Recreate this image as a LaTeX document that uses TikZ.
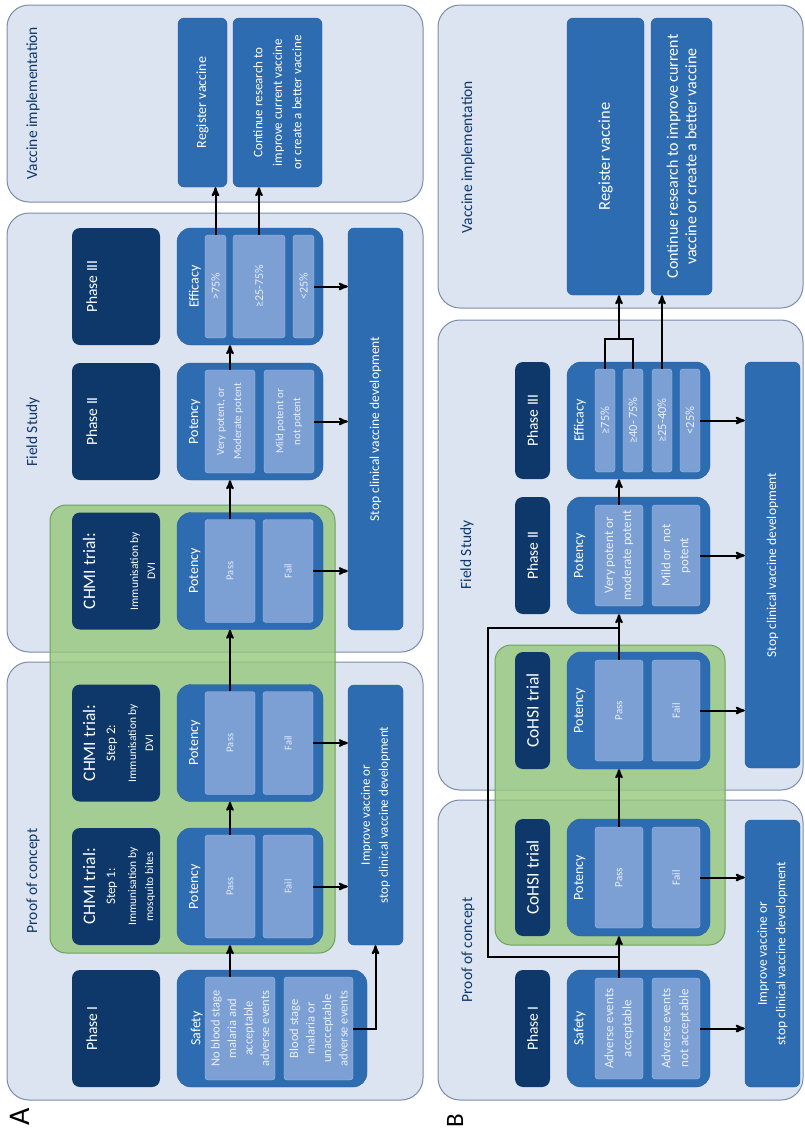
\documentclass[tikz,border=0pt]{standalone}
\usepackage{fontspec}
\setmainfont{Carlito}
\usetikzlibrary{positioning,arrows,calc}
\definecolor{navy}{RGB}{13,56,105}
\definecolor{midblue}{RGB}{46,108,178}
\definecolor{lightblue}{RGB}{125,160,212}
\definecolor{paletext}{RGB}{232,238,248}
\definecolor{panelfill}{RGB}{220,228,242}
\definecolor{panelline}{RGB}{125,140,170}
\definecolor{trialfill}{RGB}{150,200,125}
\definecolor{trialline}{RGB}{110,160,90}
\newcommand{\fs}[2]{\fontsize{#1}{#2}\selectfont}
\tikzset{panel/.style={draw=panelline,fill=panelfill,line width=1pt,rounded corners=22pt},
    trial/.style={draw=trialline,fill=trialfill,fill opacity=0.8,line width=1pt,rounded corners=16pt},
    wh/.style 2 args={minimum height=#1,minimum width=#2},
    rot/.style={rotate=90,inner sep=0pt,align=center},
    head/.style={rot,fill=navy,rounded corners=8pt,text=white},
    headtxt/.style={rot,text=white,font=\fs{11.5}{17}},
    test/.style={rot,fill=midblue,draw=midblue!85!black,rounded corners=14pt},
    opt/.style={rot,fill=lightblue,draw=lightblue!70!white,rounded corners=3pt,text=paletext},
    outcome/.style={rot,fill=midblue,draw=midblue!85!black,rounded corners=6pt,text=white},
    tag/.style={rot,text=white,font=\fs{14}{16}},
    title/.style={rot,text=navy,font=\fs{15.5}{18}},
    flow/.style={->,>=stealth',line width=2pt,black},
    link/.style={line width=2pt,black}}

\begin{document}
\begin{tikzpicture}[x=1pt,y=-1pt]
    \fill[white] (0,0) rectangle (805,1133);
    \useasboundingbox (0,0) rectangle (805,1133);

    % panel A
    \draw[panel] (7,5) rectangle (423,202);
    \draw[panel] (7,213) rectangle (423,652);
    \draw[panel] (7,662) rectangle (423,1100);
    \draw[trial] (50,505) rectangle (335,953);
    \node[title] (tA1) at (33,881) {Proof of concept};
    \node[title] (tA2) at (33,432) {Field Study};
    \node[title] (tA3) at (33,103) {Vaccine implementation};
    \node[rot,font=\fs{30}{30}] (lblA) at (20,1117) {A};

    \node[head,wh={88}{117}] (hA1) at (116,1028.5) {};
    \node[head,wh={88}{117}] (hA2) at (116,886.5) {};
    \node[head,wh={88}{117}] (hA3) at (116,743) {};
    \node[head,wh={88}{117}] (hA4) at (116,571) {};
    \node[head,wh={88}{117}] (hA5) at (116,421.5) {};
    \node[head,wh={88}{117}] (hA6) at (116,286.5) {};
    \node[headtxt] (hA1t) at ($(hA1.north)+(20,0)$) {\fs{15.5}{18}Phase I};
    \node[headtxt,anchor=north] (hA2t) at ($(hA2.north)+(11,0)$)
        {\fs{17.5}{20}CHMI trial:\\[3pt]\fs{13}{17}Step 1:\\[4pt]Immunisation by\\mosquito bites};
    \node[headtxt,anchor=north] (hA3t) at ($(hA3.north)+(11,0)$)
        {\fs{17.5}{20}CHMI trial:\\[3pt]\fs{13}{17}Step 2:\\[4pt]Immunisation by\\DVI};
    \node[headtxt,anchor=north] (hA4t) at ($(hA4.north)+(11,0)$)
        {\fs{17.5}{20}CHMI trial:\\[26pt]Immunisation by\\DVI};
    \node[headtxt] (hA5t) at ($(hA5.north)+(20,0)$) {\fs{15.5}{18}Phase II};
    \node[headtxt] (hA6t) at ($(hA6.north)+(20,0)$) {\fs{15.5}{18}Phase III};

    % phase I
    \node[test,wh={190}{117}] (sA) at (272,1028.5) {};
    \node[tag] (sAt) at ($(sA.north)+(20,0)$) {Safety};
    \node[opt,wh={70}{103},font=\fs{12.5}{16.5}] (sAok) at (240,1028.5)
        {No blood stage\\malaria and\\acceptable\\adverse events};
    \node[opt,wh={69}{103},font=\fs{12.5}{16.5}] (sAno) at (318.5,1028.5)
        {Blood stage\\malaria or\\unacceptable\\adverse events};
    % CHMI trials
    \node[test,wh={146}{117}] (pA1) at (250,886.5) {};
    \node[tag] (pA1t) at ($(pA1.north)+(18,0)$) {Potency};
    \node[opt,wh={50}{103},font=\fs{10.5}{14}] (pA1y) at (230,886.5) {Pass};
    \node[opt,wh={50}{103},font=\fs{10.5}{14}] (pA1n) at (288,886.5) {Fail};
    \node[test,wh={146}{117}] (pA2) at (250,743) {};
    \node[tag] (pA2t) at ($(pA2.north)+(18,0)$) {Potency};
    \node[opt,wh={50}{103},font=\fs{10.5}{14}] (pA2y) at (230,743) {Pass};
    \node[opt,wh={50}{103},font=\fs{10.5}{14}] (pA2n) at (288,743) {Fail};
    \node[test,wh={146}{117}] (pA3) at (250,571) {};
    \node[tag] (pA3t) at ($(pA3.north)+(18,0)$) {Potency};
    \node[opt,wh={50}{103},font=\fs{10.5}{14}] (pA3y) at (230,571) {Pass};
    \node[opt,wh={50}{103},font=\fs{10.5}{14}] (pA3n) at (288,571) {Fail};
    % phase II and III
    \node[test,wh={146}{117}] (qA) at (250,421.5) {};
    \node[tag] (qAt) at ($(qA.north)+(18,0)$) {Potency};
    \node[opt,wh={50}{103},font=\fs{11}{17}] (qAy) at (230,421.5) {Very potent, or\\Moderate potent};
    \node[opt,wh={50}{103},font=\fs{11}{17}] (qAn) at (289,421.5) {Mild potent or\\not potent};
    \node[test,wh={146}{117}] (eA) at (250,286.5) {};
    \node[tag] (eAt) at ($(eA.north)+(18,0)$) {Efficacy};
    \node[opt,wh={21}{103},font=\fs{12}{14}] (eAhi) at (215.5,286.5) {>75\%};
    \node[opt,wh={52}{103},font=\fs{12}{14}] (eAmid) at (259,286.5) {≥25-75\%};
    \node[opt,wh={21}{103},font=\fs{12}{14}] (eAlo) at (303.5,286.5) {<25\%};

    \node[outcome,wh={55}{260},font=\fs{13}{18}] (impA) at (375.5,815)
        {Improve vaccine or\\stop clinical vaccine development};
    \node[outcome,wh={55}{402},font=\fs{13.5}{18}] (stopA) at (375.5,429) {Stop clinical vaccine development};
    \node[outcome,wh={49}{169},font=\fs{14}{18}] (regA) at (202.5,102.5) {Register vaccine};
    \node[outcome,wh={89}{169},font=\fs{13}{19.5}] (contA) at (277.5,102.5)
        {Continue research to\\improve current vaccine\\or create a better vaccine};

    \draw[flow] (sAok.east -| pA1y) -- (pA1.west -| pA1y);
    \draw[flow] (sAno.south) -| (impA.west);
    \draw[flow] (pA1y.east) -- (pA2.west -| pA1y);
    \draw[flow] (pA1n.south) -- (pA1n.south -| impA.north);
    \draw[flow] (pA2y.east) -- (pA3.west -| pA2y);
    \draw[flow] (pA2n.south) -- (pA2n.south -| impA.north);
    \draw[flow] (pA3y.east) -- (qA.west -| pA3y);
    \draw[flow] (pA3n.south) -- (pA3n.south -| stopA.north);
    \draw[flow] (qAy.east) -- (eA.west -| qAy);
    \draw[flow] (qAn.south) -- (qAn.south -| stopA.north);
    \draw[flow] (eAhi.east) -- (eAhi.east |- regA.west);
    \draw[flow] (eAmid.east) -- (eAmid.east |- contA.west);
    \draw[flow] (eAlo.south) -- (eAlo.south -| stopA.north);

    % panel B
    \draw[panel] (438,5) rectangle (803,308);
    \draw[panel] (438,320) rectangle (803,790);
    \draw[panel] (438,800) rectangle (803,1100);
    \draw[trial] (495,645) rectangle (725,945);
    \node[title] (tB1) at (468,950) {Proof of concept};
    \node[title] (tB2) at (467,555) {Field Study};
    \node[title] (tB3) at (468,157) {Vaccine implementation};
    \node[rot,font=\fs{25}{25}] (lblB) at (455,1121) {B};

    \node[head,wh={35}{117},font=\fs{15.5}{18}] (hB1) at (532.5,1028.5) {Phase I};
    \node[head,wh={35}{117},font=\fs{17.5}{20}] (hB2) at (532.5,877.5) {CoHSI trial};
    \node[head,wh={35}{117},font=\fs{17.5}{20}] (hB3) at (532.5,710.5) {CoHSI trial};
    \node[head,wh={35}{117},font=\fs{15.5}{18}] (hB4) at (532.5,555.5) {Phase II};
    \node[head,wh={35}{117},font=\fs{15.5}{18}] (hB5) at (532.5,420.5) {Phase III};

    \node[test,wh={143}{117}] (sB) at (638.5,1028.5) {};
    \node[tag] (sBt) at ($(sB.north)+(13,0)$) {Safety};
    \node[opt,wh={48}{101},font=\fs{13}{18}] (sBok) at (619,1028.5) {Adverse events\\acceptable};
    \node[opt,wh={48}{101},font=\fs{13}{18}] (sBno) at (676,1028.5) {Adverse events\\not acceptable};
    \node[test,wh={143}{117}] (pB1) at (638.5,877.5) {};
    \node[tag] (pB1t) at ($(pB1.north)+(13,0)$) {Potency};
    \node[opt,wh={48}{101},font=\fs{11}{14}] (pB1y) at (619,877.5) {Pass};
    \node[opt,wh={48}{101},font=\fs{11}{14}] (pB1n) at (676,877.5) {Fail};
    \node[test,wh={143}{117}] (pB2) at (638.5,710.5) {};
    \node[tag] (pB2t) at ($(pB2.north)+(13,0)$) {Potency};
    \node[opt,wh={48}{101},font=\fs{11}{14}] (pB2y) at (619,710.5) {Pass};
    \node[opt,wh={48}{101},font=\fs{11}{14}] (pB2n) at (676,710.5) {Fail};
    \node[test,wh={143}{117}] (qB) at (638.5,555.5) {};
    \node[tag] (qBt) at ($(qB.north)+(13,0)$) {Potency};
    \node[opt,wh={48}{101},font=\fs{13}{18}] (qBy) at (619,555.5) {Very potent or\\moderate potent};
    \node[opt,wh={48}{101},font=\fs{13}{18}] (qBn) at (676,555.5) {Mild or\enspace not\\potent};
    \node[test,wh={143}{117}] (eB) at (638.5,420.5) {};
    \node[tag] (eBt) at ($(eB.north)+(13,0)$) {Efficacy};
    \node[opt,wh={20}{103},font=\fs{12.5}{14}] (eBa) at (605,420.5) {≥75\%};
    \node[opt,wh={20}{103},font=\fs{12.5}{14}] (eBb) at (633,420.5) {≥40-\,75\%};
    \node[opt,wh={20}{103},font=\fs{12.5}{14}] (eBc) at (662,420.5) {≥25-40\%};
    \node[opt,wh={20}{103},font=\fs{12.5}{14}] (eBlo) at (690,420.5) {<25\%};

    \node[outcome,wh={55}{267},font=\fs{13.5}{18.5}] (impB) at (772.5,953.5)
        {Improve vaccine or\\stop clinical vaccine development};
    \node[outcome,wh={55}{406},font=\fs{13.5}{18}] (stopB) at (772.5,565) {Stop clinical vaccine development};
    \node[outcome,wh={77}{277},font=\fs{16.5}{19}] (regB) at (605.5,156.5) {Register vaccine};
    \node[outcome,wh={61}{277},font=\fs{16}{18.5}] (contB) at (681.5,156.5)
        {Continue research to improve current\\vaccine or create a better vaccine};

    \coordinate (jB1) at ($(sBok.east)!0.5!(sBok.east |- pB1.west)$);
    \coordinate (jB2) at (pB2y |- 0,628);
    \coordinate (jB3) at ($(eBa.east)!0.5!(eBb.east)+(0,-30)$);
    \draw[flow] (sBok.east) -- (sBok.east |- pB1.west);
    \draw[link] (jB1) -- ++(-131,0) |- (jB2);
    \draw[flow] (sBno.south) -- (sBno.south -| impB.north);
    \draw[flow] (pB1y.east) -- (pB1y.east |- pB2.west);
    \draw[flow] (pB1n.south) -- (pB1n.south -| impB.north);
    \draw[flow] (pB2y.east) -- (pB2y.east |- qB.west);
    \draw[flow] (pB2n.south) -- (pB2n.south -| stopB.north);
    \draw[flow] (qBy.east) -- (qBy.east |- eB.west);
    \draw[flow] (qBn.south) -- (qBn.south -| stopB.north);
    \draw[flow] (eBlo.south) -- (eBlo.south -| stopB.north);
    \draw[link] (eBa.east) |- (jB3) -| (eBb.east);
    \draw[flow] (jB3) -- (jB3 |- regB.west);
    \draw[flow] (eBc.east) -- (eBc.east |- contB.west);
\end{tikzpicture}
\end{document}
